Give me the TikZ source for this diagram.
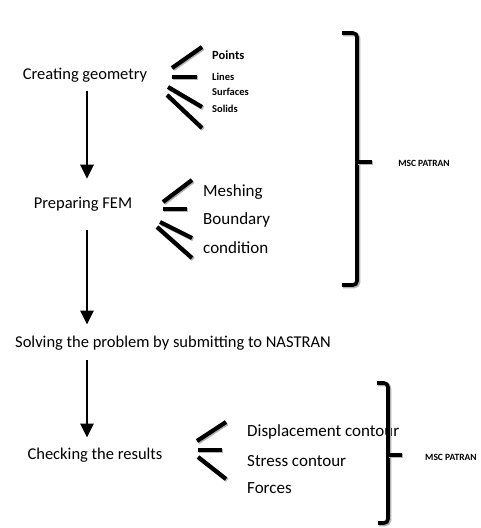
\documentclass[tikz,border=0pt]{standalone}
\usepackage{fontspec}
\setmainfont{Carlito}
\usetikzlibrary{arrows.meta, positioning, calc}

\tikzset{
  stage/.style={inner sep=0pt, font=\fontsize{16.5}{18}\selectfont},
  item/.style={inner sep=0pt, anchor=west, font=\fontsize{17}{19}\selectfont},
  smallitem/.style={inner sep=0pt, anchor=west, font=\fontsize{10.5}{12}\selectfont\bfseries},
  tool/.style={inner sep=0pt, font=\fontsize{9.5}{11}\selectfont\bfseries},
  flow/.style={line width=2.8pt, -{Triangle[width=13pt,length=14pt]}},
  stroke/.style={line width=4.2pt, preaction={draw=black!30, line width=4.2pt, transform canvas={shift={(1.2pt,-1.2pt)}}}},
  brace/.style={stroke, line width=3.6pt, rounded corners=4pt}
}

\begin{document}
\begin{tikzpicture}[x=1pt, y=-1pt]
  \useasboundingbox (0,0) rectangle (481,528);

  % Main steps
  \coordinate (spine) at (87,0);
  \node[stage] (geo) at (85,75) {Creating geometry};
  \node[stage] (fem) at (83,204) {Preparing FEM};
  \node[stage] (solve) at (173,343) {Solving the problem by submitting to NASTRAN};
  \node[stage] (check) at (95,455) {Checking the results};

  % Flow arrows
  \draw[flow, shorten <=9pt, shorten >=18pt] (geo.south -| spine) -- (fem.north -| spine);
  \draw[flow, shorten <=19pt, shorten >=11pt] (fem.south -| spine) -- (solve.north -| spine);
  \draw[flow, shorten <=10pt, shorten >=10pt] (solve.south -| spine) -- (check.north -| spine);

  % Geometry items
  \node[smallitem, font=\fontsize{12.5}{14}\selectfont\bfseries] (points) at (212,55) {Points};
  \node[smallitem] (lines) at (212,77) {Lines};
  \node[smallitem] (surfaces) at (212,92) {Surfaces};
  \node[smallitem] (solids) at (212,109) {Solids};
  \draw[stroke] (172,68) -- (202,47);
  \draw[stroke] (172,77) -- (197,77);
  \draw[stroke] (168,87) -- (202,107);
  \draw[stroke] (167,95) -- (202,128);

  % FEM items
  \node[item] (mesh) at (203,192) {Meshing};
  \node[item] (bound) at (203,220) {Boundary};
  \node[item] (cond) at (203,248) {condition};
  \draw[stroke] (163,202) -- (192,180);
  \draw[stroke] (163,209) -- (187,209);
  \draw[stroke] (160,222) -- (192,238);
  \draw[stroke] (157,227) -- (192,258);

  % Result items
  \node[item] (disp) at (247,432) {Displacement contour};
  \node[item] (stress) at (247,461) {Stress contour};
  \begin{scope}
    \clip (0,0) rectangle (481,496);
    \node[item] (forces) at (247,488) {Forces};
  \end{scope}
  \draw[stroke] (197,441) -- (226,422);
  \draw[stroke] (198,450) -- (222,450);
  \draw[stroke] (198,457) -- (226,479);

  % Patran brackets
  \draw[brace] (342,33) -- (357,33) -- (357,285) -- (342,285);
  \draw[stroke] (357,162) -- (372,162);
  \node[tool] (patran) at (424,163) {MSC PATRAN};

  \draw[brace] (377,383) -- (388,383) -- (388,523) -- (378,523);
  \draw[stroke] (388,455) -- (402,455);
  \node[tool, anchor=west] (patranb) at (425,457) {MSC PATRAN};
\end{tikzpicture}
\end{document}
